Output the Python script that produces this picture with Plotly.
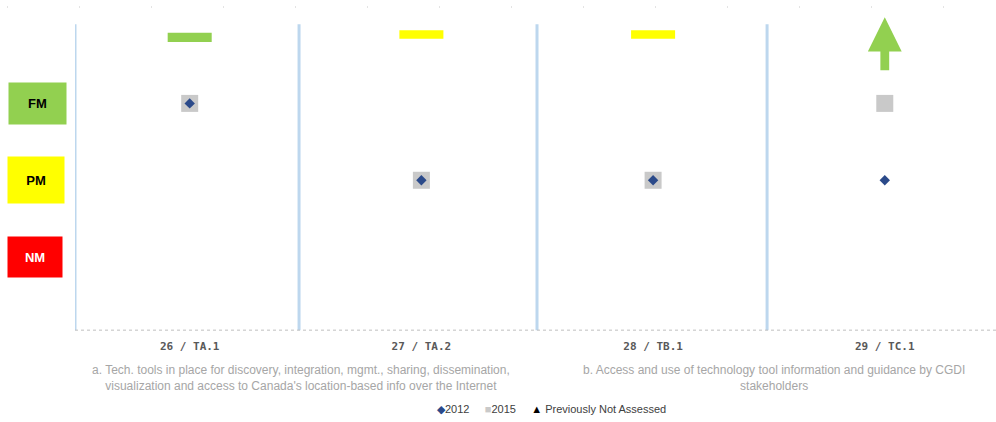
import plotly.graph_objects as go

# Indicators and assessment levels (1 = NM, 2 = PM, 3 = FM)
categories = ["26 / TA.1", "27 / TA.2", "28 / TB.1", "29 / TC.1"]
level_2012 = [3, 2, 2, 2]
level_2015 = [3, 2, 2, 3]
level_names = ["NM", "PM", "FM"]
level_colors = {1: "#FF0000", 2: "#FFFF00", 3: "#92D050"}
level_text_colors = {1: "#FFFFFF", 2: "#000000", 3: "#000000"}
group_labels = [
    "a. Tech. tools in place for discovery, integration, mgmt., sharing, dissemination,<br>"
    "visualization and access to Canada's location-based info over the Internet",
    "b. Access and use of technology tool information and guidance by CGDI<br>stakeholders",
]
group_centers = [0.48, 2.52]
legend_items = [("◆", "#2B4A8A", "2012"), ("■", "#C9C9C9", "2015"),
                ("▲", "#000000", "Previously Not Assessed")]

W, H = 996, 422
ML, MR, MT, MB = 75, 0, 15, 88
plot_w = W - ML - MR
plot_h = H - MT - MB
Y_TOP = 4.15

def px_to_paper_y(py):
    return (H - MB - py) / plot_h

def px_to_paper_x(px):
    return (px - ML) / plot_w

fig = go.Figure()

# 2015 (grey squares) drawn beneath 2012 (blue diamonds)
fig.add_trace(go.Scatter(
    x=categories, y=level_2015, mode="markers", name="2015",
    marker=dict(symbol="square", size=17, color="#C9C9C9"),
))
fig.add_trace(go.Scatter(
    x=categories, y=level_2012, mode="markers", name="2012",
    marker=dict(symbol="diamond", size=8, color="#2B4A8A"),
))

shapes = []

# Column separators
for xb in [-0.495, 0.472, 1.499, 2.492]:
    shapes.append(dict(type="line", xref="x", yref="y", x0=xb, x1=xb, y0=0.05, y1=4.03,
                       line=dict(color="#BDD7EE", width=3)))

# Dotted base line
shapes.append(dict(type="line", xref="paper", yref="y", x0=0, x1=1, y0=0.05, y1=0.05,
                   line=dict(color="#BFBFBF", width=1, dash="dot")))

# Faint dotted guide along the top
shapes.append(dict(type="line", xref="paper", yref="paper",
                   x0=px_to_paper_x(7), x1=1, y0=px_to_paper_y(7), y1=px_to_paper_y(7),
                   line=dict(color="#C8C8C8", width=1, dash="1px,71px")))

# Trend indicators: flat bar when unchanged, arrow when improved
for i, (a, b) in enumerate(zip(level_2012, level_2015)):
    col = level_colors[b]
    if b == a:
        y0, y1 = (3.80, 3.92) if b == 3 else (3.84, 3.95)
        shapes.append(dict(type="rect", xref="x", yref="y",
                           x0=i - 0.095, x1=i + 0.095, y0=y0, y1=y1,
                           fillcolor=col, line=dict(width=0)))
    elif b > a:
        hw, sw = 0.073, 0.019
        path = (f"M {i} 4.12 L {i + hw} 3.675 L {i + sw} 3.675 L {i + sw} 3.43 "
                f"L {i - sw} 3.43 L {i - sw} 3.675 L {i - hw} 3.675 Z")
        shapes.append(dict(type="path", xref="x", yref="y", path=path,
                           fillcolor=col, line=dict(width=0)))

annotations = []

# Level boxes on the left
box_sizes = {3: (57, 41), 2: (56, 46), 1: (54, 40)}
box_cx = {3: 37.5, 2: 36, 1: 35}
for lvl in [3, 2, 1]:
    w, h = box_sizes[lvl]
    annotations.append(dict(
        xref="paper", yref="y", x=px_to_paper_x(box_cx[lvl]), y=lvl,
        text=f"<b>{level_names[lvl - 1]}</b>", showarrow=False,
        width=w, height=h, bgcolor=level_colors[lvl], borderpad=0,
        font=dict(family="Liberation Sans, Arial", size=13, color=level_text_colors[lvl]),
        xanchor="center", yanchor="middle",
    ))

# Group descriptions under the category labels
for text, xc in zip(group_labels, group_centers):
    annotations.append(dict(
        xref="x", yref="paper", x=xc, y=px_to_paper_y(361),
        text=text, showarrow=False, xanchor="center", yanchor="top",
        font=dict(family="Liberation Sans, Arial", size=12, color="#A6A6A6"),
        align="center",
    ))

# Legend line
gap = "\u00a0" * 5
legend_text = gap.join(
    f"<span style='color:{c}'>{sym}</span>{'' if sym != '▲' else chr(160)}{lbl}"
    for sym, c, lbl in legend_items
)
annotations.append(dict(
    xref="paper", yref="paper", x=px_to_paper_x(551), y=px_to_paper_y(409),
    text=legend_text, showarrow=False, xanchor="center", yanchor="middle",
    font=dict(family="Liberation Sans, Arial", size=11, color="#404040"),
))

fig.update_layout(
    width=W, height=H,
    margin=dict(l=ML, r=MR, t=MT, b=MB),
    paper_bgcolor="white", plot_bgcolor="white",
    shapes=shapes, annotations=annotations,
    showlegend=False,
    xaxis=dict(
        type="category", categoryorder="array", categoryarray=categories,
        range=[-0.495, 3.48], showgrid=False, zeroline=False, showline=False,
        ticks="", ticklabelstandoff=4,
        tickfont=dict(family="DejaVu Sans Mono", size=11, color="#595959", weight="bold"),
    ),
    yaxis=dict(range=[0, Y_TOP], showgrid=False, zeroline=False, showline=False,
               showticklabels=False),
)

fig.write_html("out.html")
